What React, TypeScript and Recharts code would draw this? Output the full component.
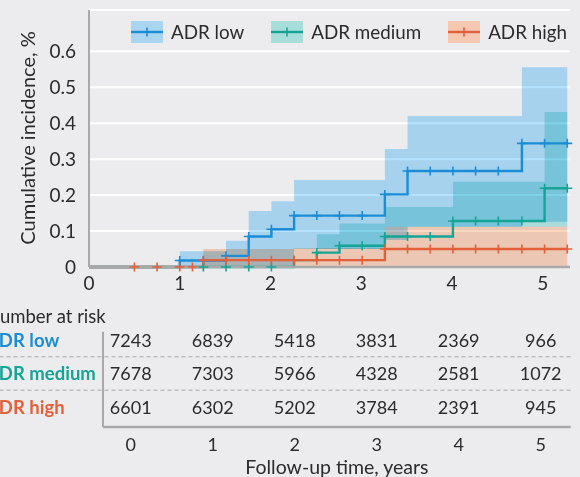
import React from "react";
import {
  ComposedChart,
  Area,
  Line,
  XAxis,
  YAxis,
  CartesianGrid,
  ScatterChart,
  Scatter,
  ReferenceLine,
} from "recharts";

const FONT = "Lato, 'Open Sans', sans-serif";
const BG = "#ececee";
const TEXT = "#2b2b2b";
const AXIS = "#a9a9aa";

// follow-up times (years) where the curves step or are censored
const times = [0, 0.5, 0.75, 1.0, 1.14, 1.26, 1.51, 1.76, 2.01, 2.26, 2.51, 2.76, 3.01, 3.26, 3.51, 3.76, 4.01, 4.26, 4.51, 4.77, 5.02, 5.27];

const lowEst = [0, 0, 0, 0.018, 0.018, 0.018, 0.031, 0.085, 0.105, 0.143, 0.143, 0.143, 0.143, 0.202, 0.267, 0.267, 0.267, 0.267, 0.267, 0.344, 0.344, 0.344];
const lowLo = [0, 0, 0, 0, 0, 0, 0, 0, 0, 0.05, 0.05, 0.05, 0.05, 0.075, 0.112, 0.112, 0.112, 0.112, 0.112, 0.126, 0.126, 0.126];
const lowHi = [0, 0, 0, 0.044, 0.044, 0.044, 0.073, 0.156, 0.183, 0.242, 0.242, 0.242, 0.242, 0.328, 0.42, 0.42, 0.42, 0.42, 0.42, 0.556, 0.556, 0.556];

const medEst = [0, 0, 0, 0, 0, 0, 0, 0, 0, 0.019, 0.04, 0.059, 0.059, 0.085, 0.085, 0.085, 0.128, 0.128, 0.128, 0.128, 0.219, 0.219];
const medLo = [0, 0, 0, 0, 0, 0, 0, 0, 0, 0.05, 0.05, 0.05, 0.05, 0.112, 0.112, 0.112, 0.112, 0.112, 0.112, 0.112, 0.112, 0.112];
const medHi = [0, 0, 0, 0, 0, 0, 0, 0, 0, 0.05, 0.091, 0.121, 0.121, 0.167, 0.167, 0.167, 0.237, 0.237, 0.237, 0.237, 0.431, 0.431];

const highEst = [0, 0, 0, 0, 0, 0.019, 0.019, 0.019, 0.019, 0.019, 0.019, 0.019, 0.019, 0.05, 0.05, 0.05, 0.05, 0.05, 0.05, 0.05, 0.05, 0.05];
const highLo = [0, 0, 0, 0, 0, 0, 0, 0, 0, 0, 0, 0, 0, 0, 0, 0, 0, 0, 0, 0, 0, 0];
const highHi = [0, 0, 0, 0, 0, 0.05, 0.05, 0.05, 0.05, 0.052, 0.052, 0.052, 0.052, 0.112, 0.112, 0.112, 0.112, 0.112, 0.112, 0.112, 0.112, 0.112];

// censoring marks
const lowCensor = [1.0, 1.26, 1.51, 1.76, 2.01, 2.26, 2.51, 2.76, 3.01, 3.26, 3.51, 3.76, 4.01, 4.26, 4.51, 4.77, 5.02, 5.27];
const medCensor = [1.26, 1.51, 1.76, 2.01, 2.26, 2.51, 2.76, 3.01, 3.26, 3.51, 3.76, 4.01, 4.26, 4.51, 4.77, 5.02, 5.27];
const highCensor = [0.5, 0.75, 1.0, 1.14, 1.26, 1.51, 1.76, 2.01, 2.26, 2.51, 2.76, 3.01, 3.26, 3.51, 3.76, 4.01, 4.26, 4.51, 4.77, 5.02, 5.27];

const yTicks = [0, 0.1, 0.2, 0.3, 0.4, 0.5, 0.6];
const xTicks = [0, 1, 2, 3, 4, 5];

// number at risk table
const riskYears = [0, 1, 2, 3, 4, 5];
const riskLow = [7243, 6839, 5418, 3831, 2369, 966];
const riskMed = [7678, 7303, 5966, 4328, 2581, 1072];
const riskHigh = [6601, 6302, 5202, 3784, 2391, 945];

const series = [
  { key: "low", name: "ADR low", color: "#1a8dd5", band: "#b5e3ff", swatch: "#a9d5f1", est: lowEst, lo: lowLo, hi: lowHi, censor: lowCensor, risk: riskLow },
  { key: "med", name: "ADR medium", color: "#14a596", band: "#b6edea", swatch: "#a8ded9", est: medEst, lo: medLo, hi: medHi, censor: medCensor, risk: riskMed },
  { key: "high", name: "ADR high", color: "#e2603a", band: "#ffd7c0", swatch: "#f6c8b1", est: highEst, lo: highLo, hi: highHi, censor: highCensor, risk: riskHigh },
];

const data = times.map((t, i) => {
  const row: Record<string, any> = { t };
  series.forEach((s) => {
    row[s.key + "Est"] = s.est[i];
    row[s.key + "Band"] = [s.lo[i], s.hi[i]];
  });
  return row;
});

const plusDot = (color: string, censor: number[]) => (props: any) => {
  const { cx, cy, payload, index } = props;
  if (cx == null || cy == null || !censor.includes(payload.t)) return <g key={index} />;
  return (
    <path
      key={index}
      d={`M${cx - 5},${cy}h10M${cx},${cy - 4.5}v9`}
      stroke={color}
      strokeWidth={1.6}
      fill="none"
    />
  );
};

function RiskCell(props: any) {
  const { cx, cy, payload } = props;
  return (
    <text x={cx} y={cy} textAnchor="middle" dominantBaseline="central" fontSize={18} fill={TEXT} fontFamily={FONT}>
      {payload.n}
    </text>
  );
}

function RowLabel(props: any) {
  const { y, payload } = props;
  const s = series[payload.value];
  if (!s) return <g />;
  return (
    <text x={-14} y={y} dominantBaseline="central" fontSize={18.5} fontWeight={700} fill={s.color} fontFamily={FONT}>
      {s.name}
    </text>
  );
}

export default function App() {
  return (
    <div style={{ position: "absolute", left: 0, top: 0, width: 580, height: 477, background: BG, fontFamily: FONT, overflow: "hidden" }}>
      <style>{`.band { mix-blend-mode: multiply; }`}</style>

      <ComposedChart width={580} height={300} data={data} margin={{ top: 10, right: 10, bottom: 3, left: 0 }}>
        <CartesianGrid horizontal vertical={false} stroke="#ffffff" strokeWidth={2} />
        <XAxis
          type="number"
          dataKey="t"
          domain={[0, 5.3]}
          ticks={xTicks}
          height={30}
          axisLine={{ stroke: AXIS, strokeWidth: 2.5 }}
          tickLine={false}
          tickSize={6}
          tickMargin={4}
          tick={{ fontSize: 19, fill: TEXT, fontFamily: FONT }}
        />
        <YAxis
          type="number"
          domain={[0, 0.715]}
          ticks={yTicks}
          width={89}
          axisLine={{ stroke: AXIS, strokeWidth: 2 }}
          tickLine={false}
          tickSize={6}
          tickMargin={7}
          tick={{ fontSize: 19, fill: TEXT, fontFamily: FONT }}
          tickFormatter={(v: number) => (v === 0 ? "0" : v.toFixed(1))}
        />
        {series.map((s) => (
          <Area
            key={s.key + "Band"}
            className="band"
            type="stepAfter"
            dataKey={s.key + "Band"}
            fill={s.band}
            fillOpacity={1}
            stroke="none"
            isAnimationActive={false}
            activeDot={false}
          />
        ))}
        {series.map((s) => (
          <Line
            key={s.key + "Est"}
            type="stepAfter"
            dataKey={s.key + "Est"}
            stroke={s.color}
            strokeWidth={2.4}
            dot={plusDot(s.color, s.censor)}
            activeDot={false}
            isAnimationActive={false}
          />
        ))}
      </ComposedChart>

      {/* legend */}
      <div style={{ position: "absolute", left: 131, top: 21, display: "flex", alignItems: "center", whiteSpace: "nowrap", width: 460 }}>
        {series.map((s) => (
          <div key={s.key} style={{ display: "flex", alignItems: "center", marginRight: 27, flexShrink: 0 }}>
            <svg width={32} height={22} style={{ display: "block", flexShrink: 0 }}>
              <rect x={0} y={0} width={32} height={22} fill={s.swatch} />
              <line x1={0} y1={11} x2={32} y2={11} stroke={s.color} strokeWidth={2.4} />
              <line x1={16} y1={6.5} x2={16} y2={15.5} stroke={s.color} strokeWidth={1.6} />
            </svg>
            <span style={{ marginLeft: 8, fontSize: 18.8, color: TEXT, lineHeight: "22px", whiteSpace: "nowrap" }}>{s.name}</span>
          </div>
        ))}
      </div>

      {/* y axis title */}
      <div
        style={{
          position: "absolute",
          left: 27,
          top: 138,
          width: 300,
          textAlign: "center",
          fontSize: 20,
          color: TEXT,
          lineHeight: "24px",
          transform: "translate(-50%, -50%) rotate(-90deg)",
          whiteSpace: "nowrap",
        }}
      >
        Cumulative incidence, %
      </div>

      {/* number at risk */}
      <div style={{ position: "absolute", left: -14, top: 304, fontSize: 18.5, color: TEXT, lineHeight: "24px", whiteSpace: "nowrap" }}>
        Number at risk
      </div>

      <div style={{ position: "absolute", left: 0, top: 300 }}>
        <ScatterChart width={580} height={177} margin={{ top: 31.7, right: 9.3, bottom: 0, left: 0 }}>
          <XAxis
            type="number"
            dataKey="x"
            domain={[-0.338, 5.366]}
            ticks={riskYears}
            height={50}
            axisLine={{ stroke: AXIS, strokeWidth: 2.5 }}
            tickLine={false}
            tickSize={6}
            tickMargin={5}
            tick={{ fontSize: 18, fill: TEXT, fontFamily: FONT }}
            label={{ value: "Follow-up time, years", position: "insideBottom", offset: 3, fontSize: 19.5, fill: TEXT, fontFamily: FONT }}
          />
          <YAxis
            type="number"
            dataKey="row"
            domain={[-0.25, 2.6]}
            reversed
            ticks={[0, 1, 2]}
            width={103}
            axisLine={{ stroke: AXIS, strokeWidth: 2 }}
            tickLine={false}
            tick={<RowLabel />}
          />
          <ReferenceLine
            segment={[{ x: -1.6, y: 0.5 }, { x: 5.366, y: 0.5 }]}
            ifOverflow="visible"
            stroke="#a8a8a8"
            strokeDasharray="4 3"
          />
          <ReferenceLine
            segment={[{ x: -1.6, y: 1.5 }, { x: 5.366, y: 1.5 }]}
            ifOverflow="visible"
            stroke="#a8a8a8"
            strokeDasharray="4 3"
          />
          {series.map((s, r) => (
            <Scatter
              key={s.key}
              data={riskYears.map((x, j) => ({ x, row: r, n: s.risk[j] }))}
              shape={<RiskCell />}
              isAnimationActive={false}
            />
          ))}
        </ScatterChart>
      </div>
    </div>
  );
}
